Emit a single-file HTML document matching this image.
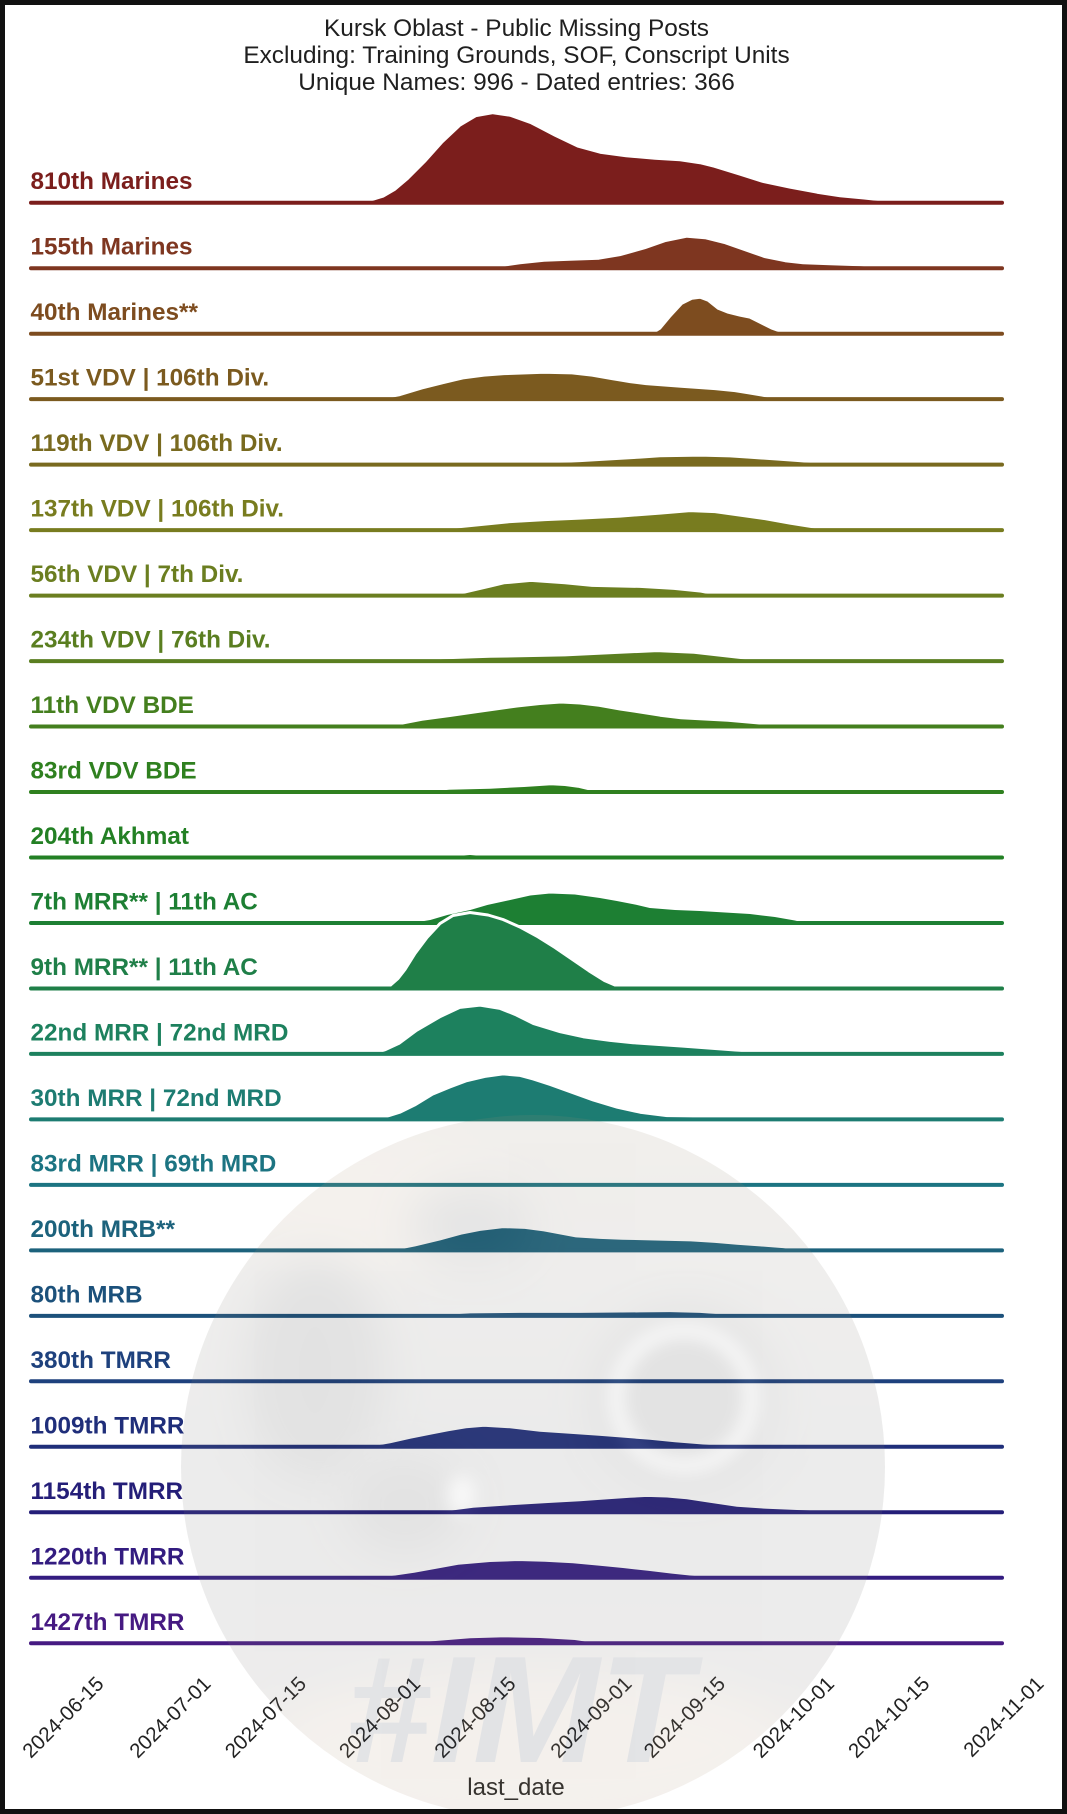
<!DOCTYPE html>
<html>
<head>
<meta charset="utf-8">
<style>
html,body{margin:0;padding:0;background:#111;}
svg{display:block;}
</style>
</head>
<body>
<svg width="1067" height="1814" viewBox="0 0 1067 1814" xmlns="http://www.w3.org/2000/svg" font-family="'Liberation Sans', Arial, sans-serif">
<defs>
  <clipPath id="wc"><circle cx="533" cy="1467" r="352"/></clipPath>
  <linearGradient id="wg" x1="0" y1="0" x2="0" y2="1">
    <stop offset="0" stop-color="#a08e76"/>
    <stop offset="0.25" stop-color="#8c867e"/>
    <stop offset="0.5" stop-color="#767676"/>
    <stop offset="0.8" stop-color="#7e7a76"/>
    <stop offset="1" stop-color="#ad947c"/>
  </linearGradient>
  <filter id="b20" x="-50%" y="-50%" width="200%" height="200%"><feGaussianBlur stdDeviation="22"/></filter>
  <filter id="b8" x="-50%" y="-50%" width="200%" height="200%"><feGaussianBlur stdDeviation="8"/></filter>
</defs>

<rect x="0" y="0" width="1067" height="1814" fill="#ffffff"/>

<!-- title -->
<g fill="#1f1f1f" font-size="24.4" text-anchor="middle">
  <text x="516.5" y="36">Kursk Oblast - Public Missing Posts</text>
  <text x="516.5" y="63">Excluding: Training Grounds, SOF, Conscript Units</text>
  <text x="516.5" y="90">Unique Names: 996 - Dated entries: 366</text>
</g>

<g stroke-linejoin="round" font-size="24.3" font-weight="bold">
<!-- 0 810th -->
<path d="M355,202.7 L370,200.7 383,196.7 395,189.7 408,178.7 425,161.7 442,142.7 460,125.7 476,116.2 493,113.2 510,115.7 531,123.2 555,135.7 578,146.7 600,152.7 626,156.2 655,158.7 680,160.2 700,163.2 714,166.7 740,174.7 762,181.7 790,187.7 817,192.7 840,196.2 864,198.5 885,200.7 905,202.7 Z" fill="#7b1e1c" stroke="#fff" stroke-width="2"/>
<line x1="31" y1="202.7" x2="1002" y2="202.7" stroke="#7b1e1c" stroke-width="4" stroke-linecap="round"/>
<text x="30.5" y="189.2" fill="#7b1e1c">810th Marines</text>

<!-- 1 155th -->
<path d="M483,268.2 L500,266.2 520,263.2 544,260.7 570,259.7 599,258.7 620,255.2 645,248.2 665,241.2 687,236.7 705,238.2 725,243.2 745,250.2 765,257.2 785,261.2 803,263.2 830,264.2 860,265.2 885,266.7 905,268.2 Z" fill="#7e3620" stroke="#fff" stroke-width="2"/>
<line x1="31" y1="268.2" x2="1002" y2="268.2" stroke="#7e3620" stroke-width="4" stroke-linecap="round"/>
<text x="30.5" y="254.7" fill="#7e3620">155th Marines</text>

<!-- 2 40th -->
<path d="M652,333.7 L660,328.7 670,316.7 682,303.7 692,298.7 700,297.7 708,300.7 718,308.7 728,312.7 740,315.7 750,317.7 760,322.7 772,328.7 786,333.7 Z" fill="#7d4c1f" stroke="#fff" stroke-width="2"/>
<line x1="31" y1="333.7" x2="1002" y2="333.7" stroke="#7d4c1f" stroke-width="4" stroke-linecap="round"/>
<text x="30.5" y="320.2" fill="#7d4c1f">40th Marines**</text>

<!-- 3 51st -->
<path d="M378,399.1 L400,395.1 422,388.4 443,383.1 463,378.4 484,375.6 504,374.1 544,372.8 572,373.4 592,375.6 612,379.1 630,382.1 646,384.1 681,386.8 715,389.1 735,391.1 749,393.4 768,396.6 786,399.1 Z" fill="#7b5a1f" stroke="#fff" stroke-width="2"/>
<line x1="31" y1="399.1" x2="1002" y2="399.1" stroke="#7b5a1f" stroke-width="4" stroke-linecap="round"/>
<text x="30.5" y="385.6" fill="#7b5a1f">51st VDV | 106th Div.</text>

<!-- 4 119th -->
<path d="M463,464.6 L500,463.6 544,462.6 580,461.1 612,459.3 640,457.6 660,456.3 701,455.6 730,456.4 749,457.6 775,459.4 796,460.9 820,462.8 844,464.6 Z" fill="#796a1f" stroke="#fff" stroke-width="2"/>
<line x1="31" y1="464.6" x2="1002" y2="464.6" stroke="#796a1f" stroke-width="4" stroke-linecap="round"/>
<text x="30.5" y="451.1" fill="#796a1f">119th VDV | 106th Div.</text>

<!-- 5 137th -->
<path d="M418,530.1 L450,528.1 480,525.1 510,522.1 545,520.1 580,518.6 620,516.6 660,513.6 690,511.1 715,512.1 740,515.6 765,519.1 790,523.6 812,527.1 834,530.1 Z" fill="#787c1f" stroke="#fff" stroke-width="2"/>
<line x1="31" y1="530.1" x2="1002" y2="530.1" stroke="#787c1f" stroke-width="4" stroke-linecap="round"/>
<text x="30.5" y="516.6" fill="#787c1f">137th VDV | 106th Div.</text>

<!-- 6 56th -->
<path d="M446,595.6 L460,593.6 476,589.9 490,586.6 504,583.3 531,580.9 565,583.3 592,585.9 640,586.9 674,588.9 701,591.6 721,595.6 Z" fill="#6b7e20" stroke="#fff" stroke-width="2"/>
<line x1="31" y1="595.6" x2="1002" y2="595.6" stroke="#6b7e20" stroke-width="4" stroke-linecap="round"/>
<text x="30.5" y="582.1" fill="#6b7e20">56th VDV | 7th Div.</text>

<!-- 7 234th -->
<path d="M408,661.1 L442,658.4 490,656.8 565,655.4 612,653.1 657,651.1 694,652.8 735,657.4 769,661.1 Z" fill="#5a7e20" stroke="#fff" stroke-width="2"/>
<line x1="31" y1="661.1" x2="1002" y2="661.1" stroke="#5a7e20" stroke-width="4" stroke-linecap="round"/>
<text x="30.5" y="647.6" fill="#5a7e20">234th VDV | 76th Div.</text>

<!-- 8 11th VDV BDE -->
<path d="M384,726.5 L400,724 422,719.8 450,716 476,712.2 517,706.5 540,704 561,702.5 580,703.5 599,705.8 620,709.5 640,712.5 660,715.7 681,718.2 728,720.8 762,723.8 789,726.5 Z" fill="#447f1e" stroke="#fff" stroke-width="2"/>
<line x1="31" y1="726.5" x2="1002" y2="726.5" stroke="#447f1e" stroke-width="4" stroke-linecap="round"/>
<text x="30.5" y="713" fill="#447f1e">11th VDV BDE</text>

<!-- 9 83rd VDV BDE -->
<path d="M415,792 L449,788.7 490,787.7 524,786 551,784.3 565,785 578,786.7 590,789.5 602,792 Z" fill="#2f801f" stroke="#fff" stroke-width="2"/>
<line x1="31" y1="792" x2="1002" y2="792" stroke="#2f801f" stroke-width="4" stroke-linecap="round"/>
<text x="30.5" y="778.5" fill="#2f801f">83rd VDV BDE</text>

<!-- 10 204th -->
<path d="M440,857.5 L470,855 500,857.5 Z" fill="#238024"/>
<line x1="31" y1="857.5" x2="1002" y2="857.5" stroke="#238024" stroke-width="4" stroke-linecap="round"/>
<text x="30.5" y="844" fill="#238024">204th Akhmat</text>

<!-- 11 7th MRR -->
<path d="M403,923 L415,921.5 430,919 447,914 470,909 487,904 510,899 530,894.5 550,892.5 575,893.5 600,897 617,900 635,903.5 650,907 675,909 700,910 725,911.5 750,913 775,916 795,919.5 810,923 Z" fill="#1d7f33" stroke="#fff" stroke-width="2"/>
<line x1="31" y1="923" x2="1002" y2="923" stroke="#1d7f33" stroke-width="4" stroke-linecap="round"/>
<text x="30.5" y="909.5" fill="#1d7f33">7th MRR** | 11th AC</text>

<!-- 12 9th MRR -->
<path d="M382,988.5 L390,985.5 398,978.5 405,969.5 415,953.5 427,937.5 440,923.5 453,915.5 470,912.5 488,915 503,919.5 521,927.5 538,936.8 555,947.5 572,959.2 589,970.8 605,980.8 616,985.5 626,988.5 Z" fill="#1f7f48" stroke="#fff" stroke-width="3"/>
<line x1="31" y1="988.5" x2="1002" y2="988.5" stroke="#1f7f48" stroke-width="4" stroke-linecap="round"/>
<text x="30.5" y="975" fill="#1f7f48">9th MRR** | 11th AC</text>

<!-- 13 22nd MRR -->
<path d="M374,1053.9 L386,1049.9 399,1043.9 417,1030.6 440,1017.2 460,1007.9 480,1005.6 500,1008.9 515,1014.9 533,1023.9 560,1032.2 583,1037.2 610,1040.9 633,1043.2 683,1046.6 720,1049.4 750,1051.6 762,1053.9 Z" fill="#1d815e" stroke="#fff" stroke-width="2"/>
<line x1="31" y1="1053.9" x2="1002" y2="1053.9" stroke="#1d815e" stroke-width="4" stroke-linecap="round"/>
<text x="30.5" y="1040.4" fill="#1d815e">22nd MRR | 72nd MRD</text>

<!-- 14 30th MRR -->
<path d="M375,1119.4 L388,1116.4 400,1112.7 415,1105.4 433,1094.4 450,1087.4 467,1081.1 485,1076.9 503,1074.4 520,1075.9 533,1079.4 550,1084.9 567,1091.1 593,1100.4 617,1107.7 640,1112.7 667,1116.1 720,1116.9 780,1117.9 806,1119.4 Z" fill="#1d7c72" stroke="#fff" stroke-width="2"/>
<line x1="31" y1="1119.4" x2="1002" y2="1119.4" stroke="#1d7c72" stroke-width="4" stroke-linecap="round"/>
<text x="30.5" y="1105.9" fill="#1d7c72">30th MRR | 72nd MRD</text>

<!-- 15 83rd MRR -->
<line x1="31" y1="1184.9" x2="1002" y2="1184.9" stroke="#1c7482" stroke-width="4" stroke-linecap="round"/>
<text x="30.5" y="1171.4" fill="#1c7482">83rd MRR | 69th MRD</text>

<!-- 16 200th MRB -->
<path d="M383,1250.4 L400,1248.4 415,1245.4 440,1239.4 461,1233.7 480,1229.9 503,1227.1 525,1227.9 544,1230.4 560,1233.4 576,1236.4 600,1237.9 622,1238.7 660,1239.6 691,1240.4 715,1241.9 737,1243.7 760,1245.4 783,1247.1 806,1250.4 Z" fill="#1c627c" stroke="#fff" stroke-width="2"/>
<line x1="31" y1="1250.4" x2="1002" y2="1250.4" stroke="#1c627c" stroke-width="4" stroke-linecap="round"/>
<text x="30.5" y="1236.9" fill="#1c627c">200th MRB**</text>

<!-- 17 80th MRB -->
<path d="M429,1315.9 L470,1313.4 520,1312.9 580,1312.9 640,1312.4 670,1312.1 700,1312.9 742,1315.9 Z" fill="#1c517b"/>
<line x1="31" y1="1315.9" x2="1002" y2="1315.9" stroke="#1c517b" stroke-width="4" stroke-linecap="round"/>
<text x="30.5" y="1302.4" fill="#1c517b">80th MRB</text>

<!-- 18 380th TMRR -->
<line x1="31" y1="1381.3" x2="1002" y2="1381.3" stroke="#1e417d" stroke-width="4" stroke-linecap="round"/>
<text x="30.5" y="1367.8" fill="#1e417d">380th TMRR</text>

<!-- 19 1009th TMRR -->
<path d="M359,1446.8 L375,1444.8 390,1442.3 410,1437.8 430,1433.8 448,1430.3 466,1427.3 484,1425.8 510,1427.3 540,1430.8 570,1432.8 599,1434.8 625,1436.8 650,1438.8 675,1441.3 700,1443.3 725,1445.3 745,1446.8 Z" fill="#1f2e7a" stroke="#fff" stroke-width="2"/>
<line x1="31" y1="1446.8" x2="1002" y2="1446.8" stroke="#1f2e7a" stroke-width="4" stroke-linecap="round"/>
<text x="30.5" y="1433.3" fill="#1f2e7a">1009th TMRR</text>

<!-- 20 1154th TMRR -->
<path d="M429,1512.3 L450,1509.8 473,1506.7 510,1504.3 548,1502 580,1500.3 608,1498.3 630,1496.8 647,1495.9 667,1496.5 687,1498.3 710,1501.8 737,1505.7 767,1507.8 797,1509 830,1510.3 856,1511.3 875,1512.3 Z" fill="#241e78" stroke="#fff" stroke-width="2"/>
<line x1="31" y1="1512.3" x2="1002" y2="1512.3" stroke="#241e78" stroke-width="4" stroke-linecap="round"/>
<text x="30.5" y="1498.8" fill="#241e78">1154th TMRR</text>

<!-- 21 1220th TMRR -->
<path d="M369,1577.8 L390,1575.3 414,1571.8 436,1567.8 458,1563.8 490,1561 518,1560 545,1560.8 573,1562.3 600,1564.8 623,1567 648,1569.8 672,1572.6 697,1575.3 722,1577.8 Z" fill="#331c80" stroke="#fff" stroke-width="2"/>
<line x1="31" y1="1577.8" x2="1002" y2="1577.8" stroke="#331c80" stroke-width="4" stroke-linecap="round"/>
<text x="30.5" y="1564.3" fill="#331c80">1220th TMRR</text>

<!-- 22 1427th TMRR -->
<path d="M395,1643.3 L420,1641.3 445,1639.3 470,1637.3 505,1636.3 540,1637 575,1639 590,1641.3 605,1643.3 Z" fill="#461a82" stroke="#fff" stroke-width="2"/>
<line x1="31" y1="1643.3" x2="1002" y2="1643.3" stroke="#461a82" stroke-width="4" stroke-linecap="round"/>
<text x="30.5" y="1629.8" fill="#461a82">1427th TMRR</text>
</g>

<!-- x axis tick labels -->
<g fill="#222" font-size="20.5" text-anchor="end">
  <text transform="translate(105,1685) rotate(-45)">2024-06-15</text>
  <text transform="translate(212,1685) rotate(-45)">2024-07-01</text>
  <text transform="translate(307.5,1685) rotate(-45)">2024-07-15</text>
  <text transform="translate(421.6,1685) rotate(-45)">2024-08-01</text>
  <text transform="translate(517,1685) rotate(-45)">2024-08-15</text>
  <text transform="translate(633,1685) rotate(-45)">2024-09-01</text>
  <text transform="translate(726.4,1685) rotate(-45)">2024-09-15</text>
  <text transform="translate(835.4,1685) rotate(-45)">2024-10-01</text>
  <text transform="translate(930.8,1685) rotate(-45)">2024-10-15</text>
  <text transform="translate(1044.9,1685) rotate(-45)">2024-11-01</text>
</g>
<text x="516" y="1795" font-size="24" fill="#222" text-anchor="middle">last_date</text>

<!-- watermark overlay (semi-transparent, on top) -->
<g clip-path="url(#wc)" opacity="0.14">
  <rect x="170" y="1100" width="730" height="720" fill="url(#wg)"/>
  <ellipse cx="360" cy="1200" rx="140" ry="70" fill="#b09a80" filter="url(#b20)"/>
  <ellipse cx="315" cy="1370" rx="70" ry="110" fill="#3c3c3c" filter="url(#b20)"/>
  <ellipse cx="470" cy="1225" rx="60" ry="40" fill="#4a4a4a" filter="url(#b20)"/>
  <ellipse cx="405" cy="1505" rx="60" ry="50" fill="#404040" filter="url(#b20)"/>
  <circle cx="684" cy="1398" r="90" fill="#404040" filter="url(#b20)"/>
  <circle cx="684" cy="1398" r="68" fill="none" stroke="#c8c8c8" stroke-width="16" filter="url(#b8)"/>
  <ellipse cx="462" cy="1495" rx="14" ry="20" fill="#d0d0d0" filter="url(#b8)"/>
  <ellipse cx="533" cy="1750" rx="260" ry="80" fill="#b49a80" filter="url(#b20)"/>
  <text x="346" y="1762" font-size="152" font-weight="bold" font-style="italic" fill="#3a4050">#IMT</text>
</g>

<!-- frame -->
<rect x="0" y="0" width="1067" height="5" fill="#111"/>
<rect x="0" y="1809" width="1067" height="5" fill="#111"/>
<rect x="0" y="0" width="5" height="1814" fill="#111"/>
<rect x="1062" y="0" width="5" height="1814" fill="#111"/>
</svg>
</body>
</html>
